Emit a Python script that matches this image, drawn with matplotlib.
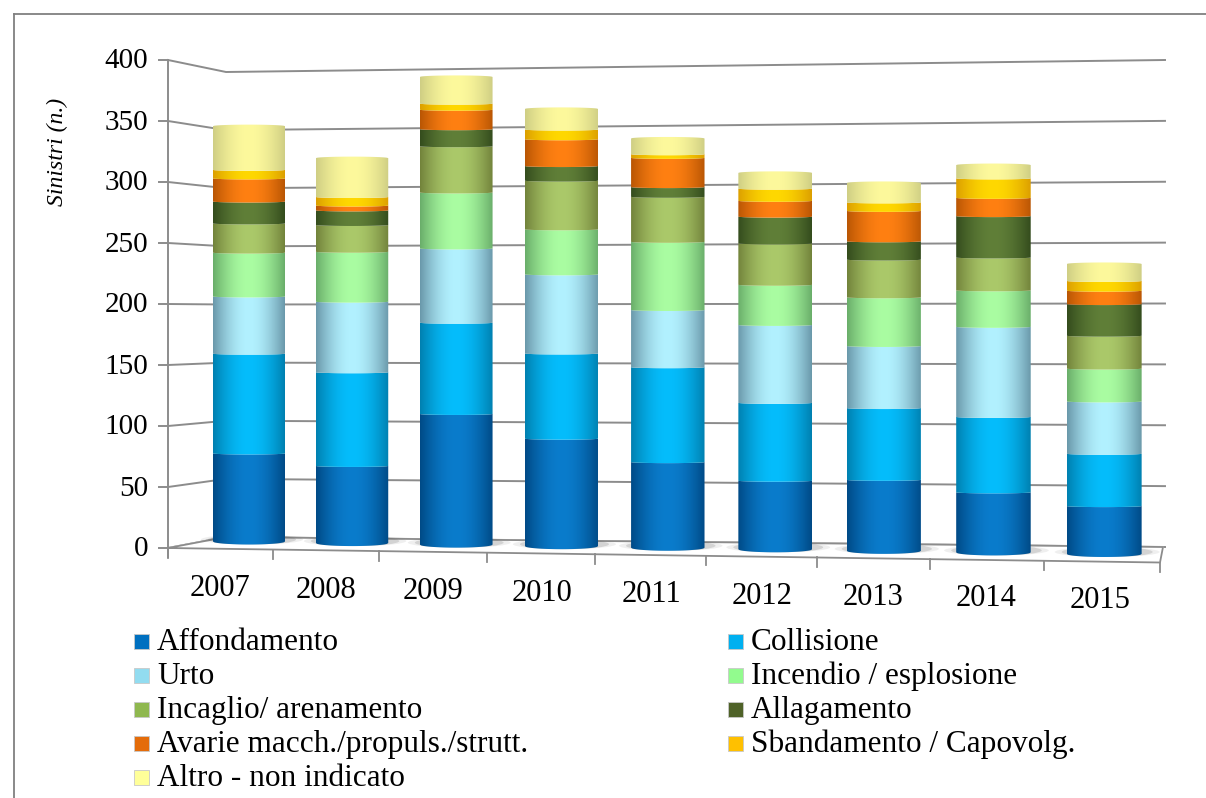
import numpy as np
from matplotlib import pyplot as plt
from matplotlib.patches import Ellipse, PathPatch, Rectangle
from matplotlib.path import Path

plt.rcParams['font.family'] = ['Liberation Serif', 'DejaVu Serif']

years = ['2007', '2008', '2009', '2010', '2011', '2012', '2013', '2014', '2015']
y_ticks = [0, 50, 100, 150, 200, 250, 300, 350, 400]

affondamento = [74, 65, 109, 90, 72, 58, 60, 51, 41]
collisione = [82, 77, 75, 70, 78, 64, 59, 62, 43]
urto = [47, 58, 61, 65, 47, 64, 51, 74, 43]
incendio = [36, 41, 46, 37, 56, 33, 40, 30, 27]
incaglio = [24, 22, 38, 40, 37, 34, 31, 27, 27]
allagamento = [18, 12, 14, 12, 8, 22, 15, 34, 26]
avarie = [19, 4, 16, 22, 24, 13, 25, 15, 11]
sbandamento = [7, 7, 5, 8, 3, 10, 7, 16, 8]
altro = [38, 34, 24, 19, 15, 15, 18, 13, 16]

series = [affondamento, collisione, urto, incendio, incaglio,
          allagamento, avarie, sbandamento, altro]
names = ['Affondamento', 'Collisione', 'Urto', 'Incendio / esplosione',
         'Incaglio/ arenamento', 'Allagamento', 'Avarie macch./propuls./strutt.',
         'Sbandamento / Capovolg.', 'Altro - non indicato']

# (edge of the cylinder, lit middle, legend swatch)
colours = [('#004a86', '#0a7ccc', '#0070c0'),
           ('#0080b0', '#05bdfc', '#00b0f0'),
           ('#6a98aa', '#b2f1ff', '#92dcf0'),
           ('#6aae6a', '#aafda2', '#92fb8e'),
           ('#72833b', '#abc96a', '#8fb84f'),
           ('#344c1d', '#607f38', '#4f6228'),
           ('#b95604', '#ff8012', '#e46c0a'),
           ('#dc9f00', '#ffd800', '#ffc000'),
           ('#cfce84', '#fdf99c', '#ffff99')]

GREY = '#8c8c8c'


# 3D look of the chart: positions on the canvas for a year index and a value
def bar_x(i):
    return 249 + 102.5 * i + 0.55 * i ** 2


def bar_width(i):
    return 72 + 0.36 * i


def bar_y(i, value):
    return 544.5 + 1.56 * i - 1.217 * value


def wall_left(value):
    return 537 - 1.1625 * value


def wall_right(value):
    return 547 - 1.2175 * value


def axis_y(value):
    return 548 - 1.22 * value


def front_y(x):
    return 548 + (x - 168) * 14.5 / 992


def hex_rgb(c):
    return np.array([int(c[k:k + 2], 16) / 255 for k in (1, 3, 5)])


def draw_band(ax, i, low, high, edge, mid, is_top):
    xc, w = bar_x(i), bar_width(i)
    t = np.linspace(0, 1, 60)
    x = xc - w / 2 + w * t
    arc = np.sqrt(np.clip(1 - (2 * t - 1) ** 2, 0, 1))

    y_low = bar_y(i, low)
    if low == 0:
        bottom = y_low - 3 + 3 * arc
    else:
        bottom = y_low - 1 + 1 * arc
    y_high = bar_y(i, high)
    if is_top:
        top = y_high + 1.5 - 1.5 * arc
    else:
        top = y_high - 1 + 1 * arc

    # horizontal shading, dark towards both sides of the cylinder
    shade = np.sin(np.pi * np.linspace(0.0, 1.0, 120)) ** 0.95
    e, m = hex_rgb(edge), hex_rgb(mid)
    strip = e[None, None, :] * (1 - shade[None, :, None]) + m[None, None, :] * shade[None, :, None]

    im = ax.imshow(strip, aspect='auto', interpolation='bilinear', zorder=3,
                   extent=(x[0], x[-1], bottom.max() + 1, top.min() - 1))
    verts = np.vstack([np.column_stack([x, top]), np.column_stack([x[::-1], bottom[::-1]]), [[x[0], top[0]]]])
    clip = PathPatch(Path(verts), transform=ax.transData, facecolor='none', edgecolor='none')
    ax.add_patch(clip)
    im.set_clip_path(clip)


fig = plt.figure(figsize=(12.06, 7.98), dpi=100)
ax = fig.add_axes([0, 0, 1, 1])

# frame round the chart, open at the right and the bottom
ax.plot([14, 14], [798, 14], color='#808080', lw=1.3)
ax.plot([14, 1206], [14, 14], color='#808080', lw=1.3)

# gridlines on the back wall and the left side wall
for v in y_ticks:
    ax.plot([168, 226, 1165], [axis_y(v), wall_left(v), wall_right(v)], color=GREY, lw=1.4, zorder=1)
    ax.plot([159, 168], [axis_y(v), axis_y(v)], color=GREY, lw=1.4, zorder=1)
    ax.text(148, axis_y(v) + 1.5, str(v), ha='right', va='center', fontsize=21, color='black')
ax.plot([168, 168], [axis_y(400), 557], color=GREY, lw=1.4, zorder=1)

# floor
ax.fill([168, 226, 1163, 1160], [548, 537, 547, 562.5], color='white', zorder=1.5)
ax.plot([168, 226, 1163, 1160, 168], [548, 537, 547, 562.5, 548], color=GREY, lw=1.3, zorder=2)
for x in [168, 273, 379, 487, 595, 706, 817, 930, 1044, 1160]:
    ax.plot([x, x], [front_y(x), front_y(x) + 9.5], color=GREY, lw=1.3, zorder=2)

for i, year in enumerate(years):
    # soft shadow on the floor
    for grow, alpha in [(30, 0.09), (16, 0.18)]:
        ax.add_patch(Ellipse((bar_x(i) + 3, bar_y(i, 0) - 5), bar_width(i) + grow, 10,
                             facecolor='#555555', edgecolor='none', alpha=alpha, zorder=2.5))
    low = 0
    for k, values in enumerate(series):
        high = low + values[i]
        draw_band(ax, i, low, high, colours[k][0], colours[k][1], k == len(series) - 1)
        low = high

    ax.text(bar_x(i) - 29 + 3.1 * i, 589 + 1.4 * i, year, ha='center', va='center', fontsize=22, color='black')

ax.text(57, 152, 'Sinistri (n.)', rotation=90, style='italic', ha='center', va='center', fontsize=17, color='black')

# legend, filled row by row
for k, name in enumerate(names):
    col, row = k % 2, k // 2
    x = [134, 728][col]
    y = 641 + 34 * row
    ax.add_patch(Rectangle((x, y - 7.5), 15, 15, facecolor=colours[k][2], edgecolor='#c8c8c8', lw=0.6))
    ax.text(x + 23, y + 1.5, name, ha='left', va='center', fontsize=22.5, color='black')

ax.set_xlim(0, 1206)
ax.set_ylim(798, 0)
ax.axis('off')

plt.savefig('out.png', dpi=100)
